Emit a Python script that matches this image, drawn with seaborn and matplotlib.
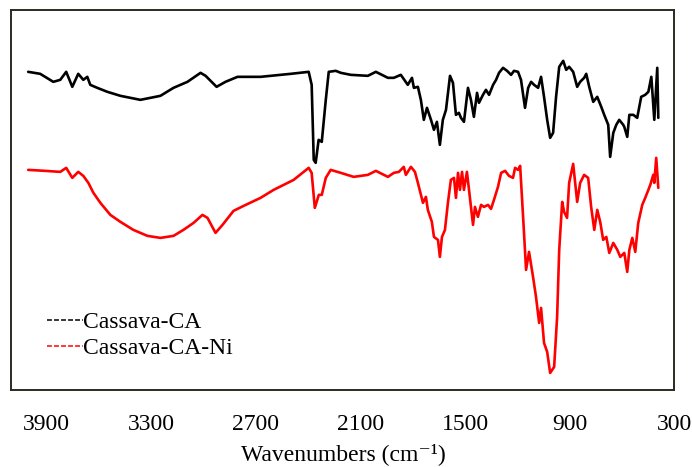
"""FTIR spectra of Cassava-CA and Cassava-CA-Ni, offset traces."""

import matplotlib

matplotlib.use("Agg")

import matplotlib.pyplot as plt
import pandas as pd
import seaborn as sns

# wavenumber (cm-1) / transmittance (a.u., offset)
ca_wavenumber = [
    4004, 3935, 3860, 3820, 3786, 3751, 3717, 3688, 3665, 3648, 3608, 3550,
    3475, 3361, 3246, 3171, 3091, 3016, 2987, 2924, 2873, 2804, 2672, 2499,
    2396, 2379, 2367, 2356, 2339, 2321, 2298, 2281, 2241, 2212, 2155, 2057,
    2011, 1942, 1908, 1868, 1828, 1804, 1793, 1770, 1753, 1736, 1718, 1695,
    1678, 1661, 1644, 1627, 1609, 1586, 1569, 1552, 1535, 1523, 1506, 1483,
    1466, 1449, 1431, 1420, 1397, 1380, 1362, 1339, 1322, 1305, 1282, 1259,
    1236, 1219, 1196, 1179, 1156, 1138, 1121, 1104, 1081, 1064, 1047, 1029,
    1012, 995, 978, 960, 937, 920, 903, 880, 857, 840, 817, 805, 788, 765,
    742, 719, 702, 679, 668, 650, 633, 616, 593, 587, 570, 558, 535, 513,
    490, 467, 449, 432, 415, 398, 392,
]
ca_transmittance = [
    318, 316, 308, 310, 318, 303, 316, 310, 313, 305, 302, 298,
    294, 290, 294, 302, 308, 317, 314, 303, 308, 313, 313, 316,
    318, 305, 230, 227, 250, 248, 290, 318, 319, 317, 315, 314,
    318, 312, 312, 315, 305, 312, 302, 303, 290, 270, 282, 270,
    260, 268, 245, 270, 280, 314, 307, 275, 277, 272, 268, 302,
    290, 273, 297, 287, 295, 300, 295, 305, 310, 317, 322, 319,
    315, 319, 318, 310, 282, 302, 308, 305, 302, 313, 293, 270,
    252, 257, 293, 323, 329, 320, 323, 318, 303, 308, 312, 316, 303, 288,
    293, 283, 275, 265, 233, 257, 265, 270, 265, 263, 253, 275, 275, 272,
    293, 295, 298, 313, 270, 322, 272,
]

ni_wavenumber = [
    4004, 3906, 3820, 3786, 3751, 3717, 3688, 3659, 3630, 3590, 3533, 3475,
    3401, 3320, 3246, 3171, 3114, 3056, 3005, 2976, 2930, 2890, 2827, 2769,
    2672, 2597, 2482, 2396, 2379, 2361, 2338, 2321, 2298, 2270, 2212, 2138,
    2057, 2011, 1942, 1908, 1879, 1851, 1839, 1810, 1787, 1770, 1741, 1724,
    1713, 1690, 1678, 1655, 1644, 1632, 1615, 1598, 1581, 1563, 1552, 1540,
    1529, 1517, 1506, 1489, 1477, 1454, 1443, 1426, 1408, 1391, 1368, 1351,
    1334, 1311, 1293, 1270, 1248, 1225, 1213, 1196, 1184, 1167, 1150, 1133,
    1110, 1093, 1075, 1064, 1047, 1029, 1012, 989, 972, 960, 943, 932, 915,
    903, 880, 857, 840, 817, 794, 777, 759, 742, 725, 708, 690, 673, 650,
    627, 610, 587, 570, 558, 541, 524, 507, 484, 467, 449, 438, 421, 415,
    404, 392,
]
ni_transmittance = [
    220, 219, 218, 222, 212, 218, 214, 207, 197, 187, 175, 168,
    160, 154, 152, 154, 160, 167, 175, 172, 157, 165, 179, 184,
    192, 200, 210, 222, 217, 182, 195, 195, 212, 220, 217, 213,
    215, 219, 213, 217, 218, 223, 215, 223, 218, 207, 187, 193,
    180, 168, 153, 150, 133, 153, 160, 187, 210, 212, 192, 217,
    200, 218, 200, 218, 200, 165, 183, 173, 185, 183, 185, 181,
    190, 203, 217, 219, 214, 212, 222, 220, 224, 173, 120, 138,
    113, 93, 67, 82, 47, 38, 17, 23, 73, 140, 188, 178, 172,
    207, 226, 188, 207, 215, 212, 183, 160, 180, 168, 150, 153, 137, 147,
    140, 133, 137, 118, 140, 152, 138, 167, 185, 192, 200, 205, 215, 207,
    232, 202,
]

series_labels = ["Cassava-CA", "Cassava-CA-Ni"]
series_colors = ["black", "red"]
x_ticks = [3900, 3300, 2700, 2100, 1500, 900, 300]

spectra = pd.concat(
    [
        pd.DataFrame(
            {"wavenumber": ca_wavenumber, "transmittance": ca_transmittance,
             "sample": series_labels[0]}
        ),
        pd.DataFrame(
            {"wavenumber": ni_wavenumber, "transmittance": ni_transmittance,
             "sample": series_labels[1]}
        ),
    ],
    ignore_index=True,
)

sns.set_theme(style="white")
plt.rcParams["font.family"] = ["Liberation Serif", "DejaVu Serif"]
plt.rcParams["text.color"] = "black"

fig = plt.figure(figsize=(6.92, 4.67), dpi=100)
ax = fig.add_axes([0.0165, 0.165, 0.958, 0.814])

sns.lineplot(
    data=spectra,
    x="wavenumber",
    y="transmittance",
    hue="sample",
    palette=dict(zip(series_labels, series_colors)),
    sort=False,
    estimator=None,
    linewidth=1.9,
    ax=ax,
)

ax.set_xlim(4100, 300)
ax.set_ylim(0, 380)
ax.set_xticks(x_ticks)
ax.set_xticklabels([str(t) for t in x_ticks], fontsize=17, color="black")
ax.set_yticks([])
ax.tick_params(axis="x", length=0, pad=17)
ax.set_xlabel("Wavenumbers (cm\u207b\u00b9)", fontsize=17, color="black",
              labelpad=6)
ax.set_ylabel("")
for spine in ax.spines.values():
    spine.set_color("#2b2b24")
    spine.set_linewidth(1.4)

handles, labels = ax.get_legend_handles_labels()
for h in handles:
    h.set_linestyle((0, (3.2, 1.4)))
    h.set_linewidth(1.1)
leg = ax.legend(
    handles,
    labels,
    loc="upper left",
    bbox_to_anchor=(0.054, 0.207),
    frameon=False,
    fontsize=17,
    handlelength=1.5,
    handletextpad=0.0,
    labelspacing=0.2,
    borderpad=0,
    borderaxespad=0,
)
for t in leg.get_texts():
    t.set_color("black")

fig.savefig("out.png", dpi=100)
